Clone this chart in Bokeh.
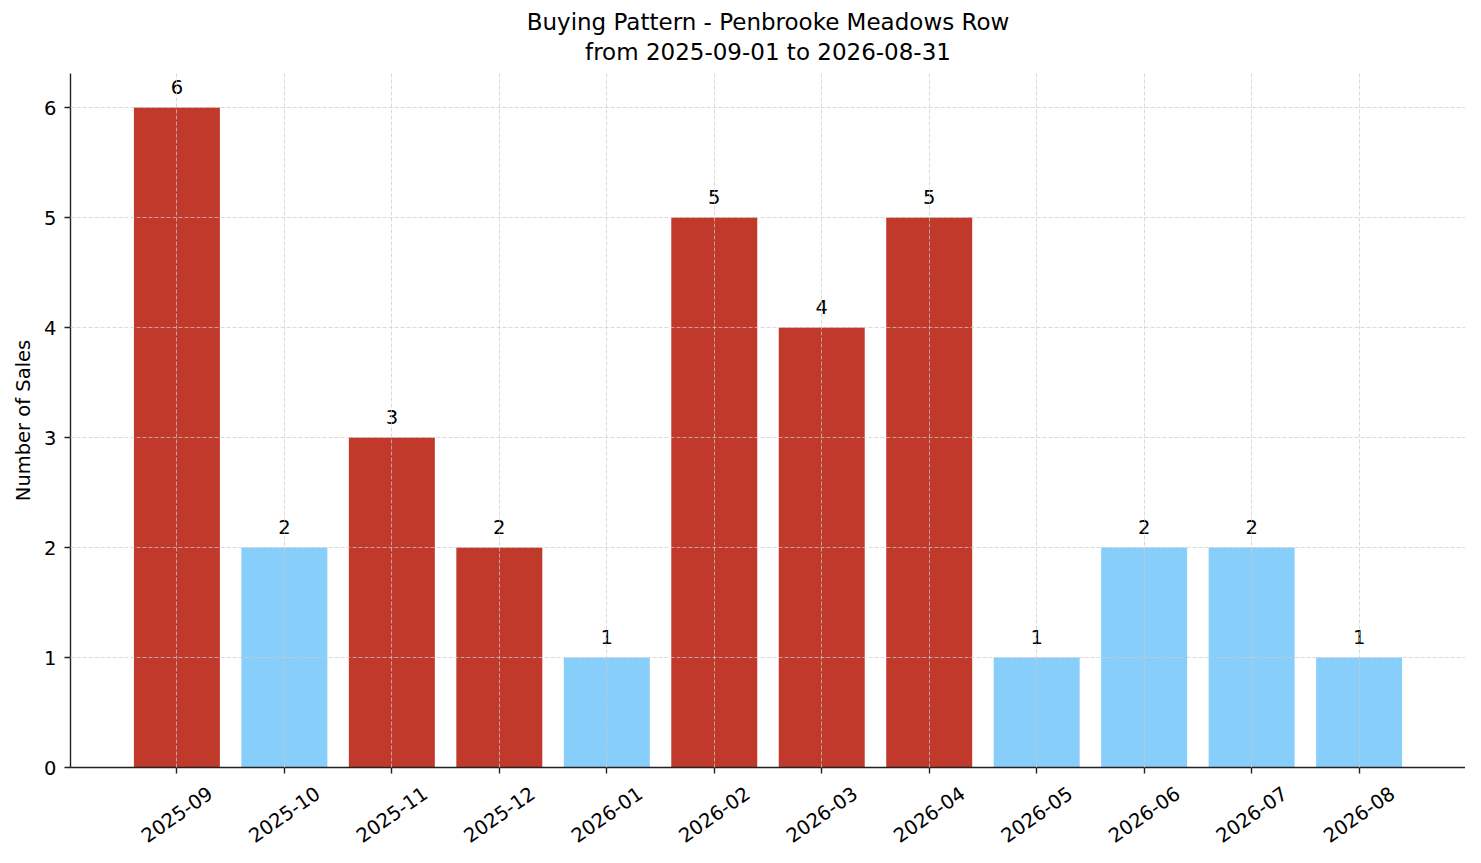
from bokeh.plotting import figure
from bokeh.models import Range1d, FixedTicker, ColumnDataSource, LabelSet, Title
from bokeh.layouts import column
from bokeh.core.properties import value
from bokeh.embed import file_html
from bokeh.resources import INLINE

months = ["2025-09", "2025-10", "2025-11", "2025-12", "2026-01", "2026-02",
          "2026-03", "2026-04", "2026-05", "2026-06", "2026-07", "2026-08"]
sales = [6, 2, 3, 2, 1, 5, 4, 5, 1, 2, 2, 1]
bar_colors = ["#c0392b", "#87cefa", "#c0392b", "#c0392b", "#87cefa", "#c0392b",
              "#c0392b", "#c0392b", "#87cefa", "#87cefa", "#87cefa", "#87cefa"]
y_ticks = [0, 1, 2, 3, 4, 5, 6]

FONT = "DejaVu Sans"
W = 1465
MAIN_H = 779
LAB_H = 68
BL, BR = 70, 0
idx = list(range(len(months)))

src = ColumnDataSource(dict(
    x=idx, top=sales, color=bar_colors,
    label=[str(v) for v in sales],
    label_y=[v + 0.12 for v in sales],
))
lab_src = ColumnDataSource(dict(x=idx, month=months, y=[33] * len(months)))

p = figure(width=W, height=MAIN_H, output_backend="svg", toolbar_location=None,
           x_range=Range1d(-0.99, len(months) - 0.01), y_range=Range1d(0, 6.31),
           min_border_left=BL, min_border_right=BR, min_border_top=73, min_border_bottom=12)

p.title.text = "Buying Pattern - Penbrooke Meadows Row"
p.title.align = "center"
p.title.text_font = FONT
p.title.text_font_size = "23px"
p.title.text_font_style = "normal"
p.title.text_color = "black"
p.title.standoff = -13
p.add_layout(Title(text="from 2025-09-01 to 2026-08-31", align="center",
                   text_font=FONT, text_font_size="23px", text_font_style="normal",
                   text_color="black", standoff=17), "above")

p.outline_line_color = None

p.vbar(x="x", top="top", width=0.8, bottom=0, fill_color="color", line_color=None, source=src)

for g in (p.xgrid, p.ygrid):
    g.grid_line_color = "#cccccc"
    g.grid_line_dash = "4 2"
    g.grid_line_width = 0.8
    g.grid_line_alpha = 0.9
    g.level = "overlay"

p.xaxis.ticker = FixedTicker(ticks=idx)
p.yaxis.ticker = FixedTicker(ticks=y_ticks)
for ax in (p.xaxis, p.yaxis):
    ax.axis_line_color = "#222222"
    ax.axis_line_width = 1.4
    ax.major_tick_line_color = "#222222"
    ax.major_tick_line_width = 1.4
    ax.major_tick_in = 0
    ax.major_tick_out = 6
    ax.minor_tick_line_color = None
    ax.major_label_text_font = FONT
    ax.major_label_text_font_size = "19.5px"
    ax.major_label_text_color = "black"

p.xaxis.major_label_text_color = None
p.xaxis.major_label_text_font_size = "0px"
p.xaxis.major_label_standoff = 0
p.yaxis.major_label_standoff = 8
p.yaxis.axis_label = "Number of Sales"
p.yaxis.axis_label_text_font = FONT
p.yaxis.axis_label_text_font_size = "19.5px"
p.yaxis.axis_label_text_font_style = "normal"
p.yaxis.axis_label_text_color = "black"
p.yaxis.axis_label_standoff = 6

p.add_layout(LabelSet(x="x", y="label_y", text="label", source=src,
                      text_font=value(FONT), text_font_size=value("19.5px"), text_color="black",
                      text_align="center", text_baseline="alphabetic"))

# strip below the axis holding the rotated month labels
p2 = figure(width=W, height=LAB_H, output_backend="svg", toolbar_location=None,
            x_range=p.x_range, y_range=Range1d(0, LAB_H),
            x_axis_location=None, y_axis_location=None,
            min_border_left=BL, min_border_right=BR, min_border_top=0, min_border_bottom=0)
p2.outline_line_color = None
p2.xgrid.visible = False
p2.ygrid.visible = False
p2.text(x="x", y="y", text="month", source=lab_src, angle=0.6109,
        text_font=value(FONT), text_font_size="19.5px", text_color="black",
        text_align="center", text_baseline="middle")

layout = column(p, p2, spacing=0)
open("out.html", "w").write(file_html(layout, INLINE))
